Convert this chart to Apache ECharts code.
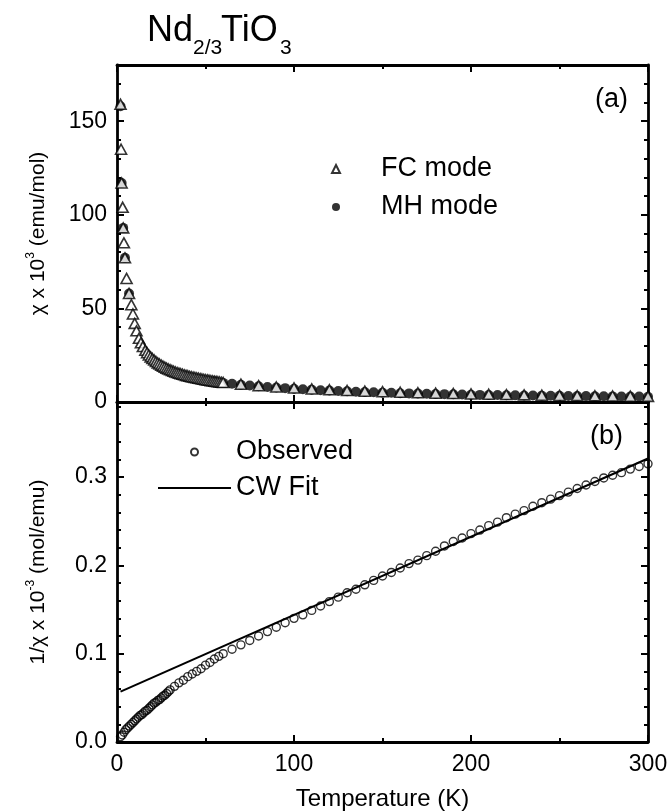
<!DOCTYPE html>
<html>
<head>
<meta charset="utf-8">
<script src="https://cdn.jsdelivr.net/npm/echarts@6/dist/echarts.min.js"></script>
<style>
  html, body { margin: 0; padding: 0; background: #fff; }
  #chart { width: 672px; height: 812px; }
</style>
</head>
<body>
<div id="chart"></div>
<script>
// ---- (a) susceptibility, field-cooled (FC) sweep ----
const fcTemp = [2, 2.3, 2.6, 3.2, 3.5, 3.9, 4.5, 5.4, 6.8, 8.1, 9, 10, 11, 12.4, 13.5, 14.6,
  16, 17, 18, 19, 20, 21, 22, 23, 24, 25, 26, 27, 28, 29, 30, 31, 32, 33, 34, 35, 36, 37, 38, 39,
  40, 41, 42, 43, 44, 45, 46, 47, 48, 49, 50, 51, 52, 53, 54, 55, 56, 57, 58, 59, 60,
  70, 80, 90, 100, 110, 120, 130, 140, 150, 160, 170, 180, 190, 200, 210, 220, 230, 240, 250,
  260, 270, 280, 290, 300];
const fcChi = [159, 135, 117, 104, 93, 85, 77, 66, 58, 52, 47, 42, 38, 34, 31.6, 29.6,
  27.6, 26.3, 25.1, 24.1, 23.2, 22.4, 21.6, 20.9, 20.3, 19.7, 19.1, 18.6, 18.1, 17.6, 17.2, 16.8, 16.4, 16.0, 15.7, 15.4, 15.1, 14.8, 14.5, 14.2,
  14.0, 13.7, 13.5, 13.3, 13.1, 12.9, 12.7, 12.5, 12.3, 12.1, 11.9, 11.8, 11.6, 11.4, 11.3, 11.1, 11.0, 10.8, 10.7, 10.5, 10.4,
  9.5, 8.7, 8.0, 7.5, 7.0, 6.5, 6.1, 5.8, 5.5, 5.2, 4.9, 4.7, 4.5, 4.3, 4.1, 3.95, 3.8, 3.65, 3.5,
  3.4, 3.3, 3.2, 3.1, 3.0];

// ---- (a) susceptibility from M(H) measurements ----
const mhTemp = [2, 2.6, 3.5, 4.5, 6.8, 55, 60, 65, 70, 75, 80, 85, 90, 95, 100, 105, 110, 115, 120,
  125, 130, 135, 140, 145, 150, 155, 160, 165, 170, 175, 180, 185, 190, 195, 200, 205, 210, 215,
  220, 225, 230, 235, 240, 245, 250, 255, 260, 265, 270, 275, 280, 285, 290, 295, 300];
const mhChi = [158, 117, 93, 77, 58, 10.9, 10.2, 9.7, 9.2, 8.8, 8.4, 8.0, 7.7, 7.4, 7.1, 6.8, 6.6, 6.3, 6.1,
  5.9, 5.7, 5.5, 5.3, 5.2, 5.0, 4.9, 4.7, 4.6, 4.5, 4.4, 4.3, 4.2, 4.1, 4.0, 3.9, 3.8, 3.75, 3.7,
  3.6, 3.55, 3.5, 3.45, 3.4, 3.35, 3.3, 3.25, 3.2, 3.15, 3.1, 3.05, 3.0, 2.98, 2.95, 2.9, 2.85];

// ---- (b) inverse susceptibility, observed ----
const obsTemp = [2, 3, 4, 5, 6, 7, 8, 9, 10, 11, 12, 13, 14, 15, 16, 17, 18, 19, 20, 21, 22, 23, 24, 25,
  26, 27, 28, 29, 30, 32.5, 35, 37.5, 40, 42.5, 45, 47.5, 50, 52.5, 55, 57.5, 60,
  65, 70, 75, 80, 85, 90, 95, 100, 105, 110, 115, 120, 125, 130, 135, 140, 145, 150, 155, 160,
  165, 170, 175, 180, 185, 190, 195, 200, 205, 210, 215, 220, 225, 230, 235, 240, 245, 250,
  255, 260, 265, 270, 275, 280, 285, 290, 295, 300];
const obsInv = [0.006, 0.008, 0.011, 0.014, 0.016, 0.018, 0.020, 0.022, 0.024, 0.026, 0.028, 0.030, 0.031, 0.033, 0.035, 0.036, 0.038, 0.040, 0.042, 0.044, 0.045, 0.047, 0.048, 0.050,
  0.052, 0.053, 0.055, 0.057, 0.059, 0.063, 0.067, 0.070, 0.074, 0.077, 0.080, 0.083, 0.087, 0.090, 0.094, 0.097, 0.100,
  0.105, 0.110, 0.115, 0.120, 0.125, 0.130, 0.135, 0.140, 0.144, 0.149, 0.154, 0.159, 0.164, 0.169, 0.173, 0.178, 0.183, 0.188, 0.192, 0.197,
  0.202, 0.206, 0.211, 0.216, 0.222, 0.227, 0.231, 0.236, 0.240, 0.245, 0.249, 0.254, 0.258, 0.262, 0.267, 0.271, 0.275, 0.279,
  0.283, 0.287, 0.291, 0.295, 0.299, 0.302, 0.305, 0.309, 0.312, 0.315];

// ---- (b) Curie-Weiss fit (straight line) ----
const fitTemp = [2, 300];
const fitInv = [0.057, 0.321];

// ---- axis ranges ----
const tempRange = [0, 300];
const chiRange = [0, 180];
const invRange = [0, 0.385];

const FONT = '"Liberation Sans", Arial, Helvetica, sans-serif';
const zip = (a, b) => a.map((v, i) => [v, b[i]]);

const grids = [
  { left: 117, right: 24, top: 65, height: 337 },
  { left: 117, right: 24, top: 402, height: 341 }
];

const tickStyle = { color: '#000', width: 2 };
const lineStyle = { color: '#000', width: 2.8 };

function makeX(g, withLabels) {
  const out = [];
  ['bottom', 'top'].forEach(pos => {
    [[100, 7, true], [50, 4, false]].forEach(([step, len, major]) => {
      const labelled = withLabels && pos === 'bottom' && major;
      out.push({
        type: 'value', gridIndex: g, position: pos,
        min: tempRange[0], max: tempRange[1], interval: step,
        axisLine: { show: major, onZero: false, lineStyle },
        axisTick: { show: true, inside: true, length: len, lineStyle: tickStyle },
        axisLabel: {
          show: labelled, margin: 11, fontSize: 23, fontFamily: FONT, color: '#000'
        },
        splitLine: { show: false },
        name: labelled ? 'Temperature (K)' : '',
        nameLocation: 'middle', nameGap: 45,
        nameTextStyle: { fontSize: 24, fontFamily: FONT, color: '#000' }
      });
    });
  });
  return out;
}

function makeY(g, range, majorStep, minorStep, title, fmt) {
  const out = [];
  ['left', 'right'].forEach(pos => {
    [[majorStep, 7, true], [minorStep, 4, false]].forEach(([step, len, major]) => {
      const labelled = pos === 'left' && major;
      out.push({
        type: 'value', gridIndex: g, position: pos,
        min: range[0], max: range[1], interval: step,
        axisLine: { show: major, onZero: false, lineStyle },
        axisTick: { show: true, inside: true, length: len, lineStyle: tickStyle },
        axisLabel: {
          show: labelled, showMaxLabel: false, margin: 10,
          fontSize: 23, fontFamily: FONT, color: '#000', formatter: fmt
        },
        splitLine: { show: false },
        name: labelled ? title : '',
        nameLocation: 'middle', nameGap: 66, nameRotate: 90,
        nameTextStyle: {
          fontSize: 21, fontFamily: FONT, color: '#000',
          rich: {
            t: { fontSize: 21, fontFamily: FONT, color: '#000' },
            s: { fontSize: 12, fontFamily: FONT, color: '#000', padding: [0, 0, 14, 0] }
          }
        }
      });
    });
  });
  return out;
}

const xAxes = [].concat(makeX(0, false), makeX(1, true));
const yAxes = [].concat(
  makeY(0, chiRange, 50, 10, '{t|χ x 10}{s|3}{t| (emu/mol)}', v => String(v)),
  makeY(1, invRange, 0.1, 0.02, '{t|1/χ x 10}{s|-3}{t| (mol/emu)}', v => v.toFixed(1))
);

const legendText = { fontSize: 27, fontFamily: FONT, color: '#000' };

function label(text, x, y, size, align) {
  return {
    type: 'text', x: x, y: y, silent: true,
    style: {
      text: text, fill: '#000',
      font: size + 'px ' + FONT,
      align: align || 'left', verticalAlign: 'middle',
      textAlign: align || 'left', textVerticalAlign: 'middle'
    }
  };
}

const option = {
  animation: false,
  backgroundColor: '#fff',
  grid: grids,
  xAxis: xAxes,
  yAxis: yAxes,
  legend: [
    {
      data: ['FC mode', 'MH mode'], orient: 'vertical', left: 331, top: 154,
      itemWidth: 8, itemHeight: 8, itemGap: 8, padding: 0, selectedMode: false,
      symbolKeepAspect: true,
      textStyle: Object.assign({ lineHeight: 30, padding: [0, 0, 0, 36] }, legendText)
    },
    {
      data: ['Observed', { name: 'CW Fit', itemStyle: { color: 'rgba(0,0,0,0)', borderWidth: 0 } }],
      orient: 'vertical', left: 157, top: 438,
      itemWidth: 73, itemHeight: 7, itemGap: 8, padding: 0, selectedMode: false,
      textStyle: Object.assign({ lineHeight: 28 }, legendText)
    }
  ],
  graphic: [
    label('Nd', 147, 31, 36),
    label('2/3', 193, 48.5, 21),
    label('TiO', 221, 31, 36),
    label('3', 280, 48.5, 21),
    label('(a)', 628, 100, 27, 'right'),
    label('(b)', 623, 437, 27, 'right')
  ],
  series: [
    {
      type: 'scatter', name: 'MH mode', xAxisIndex: 0, yAxisIndex: 0,
      data: zip(mhTemp, mhChi), symbol: 'circle', symbolSize: 10,
      itemStyle: { color: '#000' }
    },
    {
      type: 'scatter', name: 'FC mode', xAxisIndex: 0, yAxisIndex: 0,
      data: zip(fcTemp, fcChi), symbol: 'triangle', symbolSize: [11, 10],
      symbolKeepAspect: true,
      itemStyle: { color: '#fff', borderColor: '#000', borderWidth: 1.6 }
    },
    {
      type: 'line', name: 'CW Fit', xAxisIndex: 4, yAxisIndex: 4,
      data: zip(fitTemp, fitInv), symbol: 'none', showSymbol: false,
      lineStyle: { color: '#000', width: 2 }, itemStyle: { color: '#000' }
    },
    {
      type: 'scatter', name: 'Observed', xAxisIndex: 4, yAxisIndex: 4,
      data: zip(obsTemp, obsInv), symbol: 'circle', symbolSize: 8,
      itemStyle: { color: 'rgba(0,0,0,0)', borderColor: '#000', borderWidth: 1.4 }
    }
  ]
};

const chart = echarts.init(document.getElementById('chart'), null, { renderer: 'canvas' });
chart.setOption(option);
</script>
</body>
</html>
